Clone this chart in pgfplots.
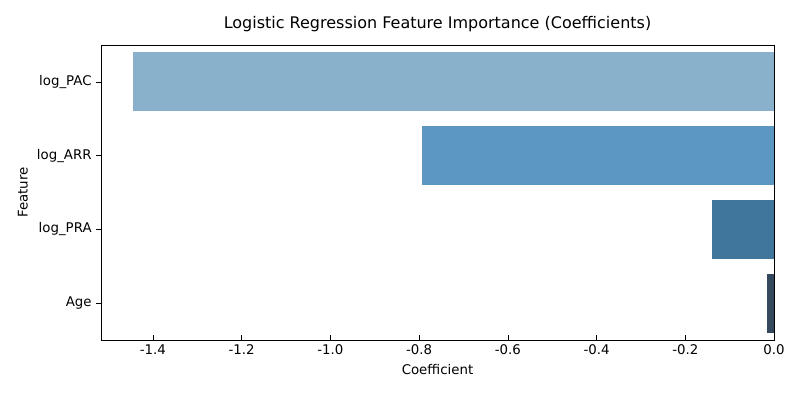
\documentclass[border=0pt]{standalone}
\usepackage{fontspec}
\setmainfont{DejaVu Sans}
\usepackage{pgfplots}
\pgfplotsset{compat=1.18}
\definecolor{c1}{HTML}{8AB1CC}
\definecolor{c2}{HTML}{5B97C0}
\definecolor{c3}{HTML}{41769C}
\definecolor{c4}{HTML}{34495E}
\begin{document}
\begin{tikzpicture}
\begin{axis}[
  scale only axis, width=504.75pt, height=221.25pt,
  xmin=-1.517, xmax=0, ymin=-0.5, ymax=3.5, y dir=reverse,
  ytick={0,1,2,3}, yticklabels={log\_PAC,log\_ARR,log\_PRA,Age},
  xtick={-1.4,-1.2,-1.0,-0.8,-0.6,-0.4,-0.2,0},
  xticklabel style={/pgf/number format/.cd,fixed,fixed zerofill,precision=1,assume math mode=true},
  tick style={black}, major tick length=3.5pt,
  xtick pos=bottom, ytick pos=left,
  tick label style={font=\fontsize{10}{12}\selectfont},
  xlabel={Coefficient}, ylabel={Feature},
  label style={font=\fontsize{10}{12}\selectfont},
  title={Logistic Regression Feature Importance (Coefficients)},
  title style={font=\fontsize{12}{14}\selectfont},
  xbar, bar width=0.8, bar shift=0pt,
]
\addplot[fill=c1,draw=none] coordinates {(-1.445,0)};
\addplot[fill=c2,draw=none] coordinates {(-0.794,1)};
\addplot[fill=c3,draw=none] coordinates {(-0.140,2)};
\addplot[fill=c4,draw=none] coordinates {(-0.016,3)};
\end{axis}
\useasboundingbox ([xshift=-75.75pt,yshift=-45pt]current axis.south west) rectangle ([xshift=19.5pt,yshift=33.75pt]current axis.north east);
\end{tikzpicture}
\end{document}
